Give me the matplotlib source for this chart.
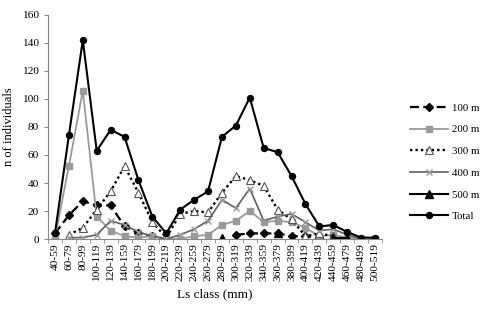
import numpy as np
import matplotlib
matplotlib.use("Agg")
import matplotlib.pyplot as plt

nan = np.nan

# classes de comprimento
classes = ["40-59", "60-79", "80-99", "100-119", "120-139", "140-159", "160-179",
           "180-199", "200-219", "220-239", "240-259", "260-279", "280-299",
           "300-319", "320-339", "340-359", "360-379", "380-399", "400-419",
           "420-439", "440-459", "460-479", "480-499", "500-519"]

m100 = [4, 17, 27, 24, 24, 9, 4, 2, 0, nan, nan, nan, nan,
        3, 4, 4, 4, 2, 2, 1, nan, nan, nan, nan]
m200 = [1, 52, 106, 16, 6, 2, 1, 2, 0, 0, 2, 3, 10,
        13, 20, 12, 13, 12, 8, 2, 3, 1, 0, 0]
m300 = [nan, 3, 8, 21, 34, 52, 33, 12, 1, 18, 20, 19, 33,
        45, 42, 38, 21, 14, 2, 4, 2, nan, nan, nan]
m400 = [nan, 1, 1, 3, 13, 10, 5, 2, 0, 3, 7, 13, 28,
        22, 36, 13, 16, 18, 12, 6, 7, 3, 0, nan]
m500 = [nan, nan, nan, nan, nan, nan, nan, nan, nan, nan, nan, nan, 1,
        nan, nan, nan, 4, nan, nan, nan, 1, 1, nan, nan]
total = [4, 74, 142, 63, 78, 73, 42, 16, 4, 21, 28, 34, 73,
         81, 101, 65, 62, 45, 25, 9, 10, 5, 1, 1]

plt.rcParams["font.family"] = "Liberation Serif"

fig = plt.figure(figsize=(4.82, 3.11), dpi=100)
ax = fig.add_axes([0.0996, 0.2315, 0.6929, 0.7203])

x = np.arange(len(classes))

ax.plot(x, m100, color="black", linestyle=(0, (4, 2)), lw=1.6, marker="D", ms=3.8,
        label="100 m")
ax.plot(x, m200, color="#9a9a9a", lw=1.3, marker="s", ms=4.3, label="200 m")
ax.plot(x, m300, color="black", linestyle=(0, (1, 1.3)), lw=1.7, marker="^", ms=6,
        mfc="white", mec="#555555", mew=0.8, label="300 m")
ax.plot(x, m400, color="#606060", lw=1.2, marker="x", ms=5, mec="#999999",
        label="400 m")
ax.plot(x, m500, color="black", lw=1.5, marker="^", ms=5.5, label="500 m")
ax.plot(x, total, color="black", lw=1.5, marker="o", ms=4.3, label="Total")

ax.set_xlim(-0.5, len(classes) - 0.5)
ax.set_ylim(0, 160)
ax.set_yticks(range(0, 161, 20))
ax.set_xticks(x)
ax.set_xticklabels(classes, rotation=90, fontsize=8.2)
ax.set_xticks(np.arange(-0.5, len(classes), 1), minor=True)
ax.tick_params(axis="x", which="major", length=0, pad=3)
ax.tick_params(axis="x", which="minor", length=3, color="#888888")
ax.tick_params(axis="y", labelsize=8.2, length=3, color="#888888")

for s in ["top", "right"]:
    ax.spines[s].set_visible(False)
for s in ["left", "bottom"]:
    ax.spines[s].set_color("#888888")

ax.set_xlabel("Ls class (mm)", fontsize=9.5, labelpad=5)
ax.set_ylabel("n of individuals", fontsize=9, labelpad=5)

fig.legend(loc="upper left", bbox_to_anchor=(0.83, 0.70), frameon=False,
           fontsize=7.8, handlelength=3.5, labelspacing=1.12, handletextpad=0.4)

fig.savefig("out.png", dpi=100)
